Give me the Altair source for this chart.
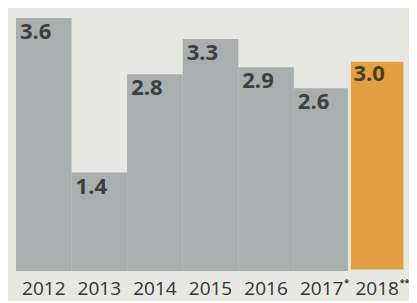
import altair as alt
import pandas as pd

years = ["2012", "2013", "2014", "2015", "2016", "2017", "2018"]
marks = ["", "", "", "", "", "*", "**"]
values = [3.6, 1.4, 2.8, 3.3, 2.9, 2.6, 3.0]
labels = ["3.6", "1.4", "2.8", "3.3", "2.9", "2.6", "3.0"]
forecast = [False, False, False, False, False, False, True]

df = pd.DataFrame({"year": years, "mark": marks, "value": values, "label": labels,
                   "forecast": forecast})

BG = "#e8e8e3"

x = alt.X("year:N", sort=years, title=None,
          scale=alt.Scale(paddingInner=0, paddingOuter=0),
          axis=alt.Axis(domain=False, ticks=False, labelAngle=0, labelFont="Open Sans",
                        labelFontSize=19, labelColor="#333333", labelBaseline="alphabetic",
                        labelPadding=23, labelOverlap=False))
y = alt.Y("value:Q", scale=alt.Scale(domain=[0, 3.6], nice=False), axis=None, title=None)

bars = alt.Chart(df).mark_bar().encode(
    x=x, y=y,
    color=alt.condition("datum.forecast", alt.value("#e3a042"), alt.value("#a9aeae")),
    stroke=alt.condition("datum.forecast", alt.value(BG), alt.value("#a9aeae")),
    strokeWidth=alt.condition("datum.forecast", alt.value(3), alt.value(0)),
)

text = alt.Chart(df).mark_text(align="left", baseline="top", dx=4, dy=4,
                               font="Open Sans", fontWeight="bold", fontSize=22).encode(
    x=alt.X("year:N", sort=years, bandPosition=0),
    y=y,
    text="label:N",
    color=alt.condition("datum.forecast", alt.value("#4a3d28"), alt.value("#3c3f3f")),
)

stars = alt.Chart(df).mark_text(align="left", baseline="top", dx=22.5, dy=8,
                                font="Open Sans", fontSize=9, fontWeight="bold",
                                color="#333333").encode(
    x=alt.X("year:N", sort=years, bandPosition=0.5),
    y=alt.datum(0),
    text="mark:N",
)

chart = (bars + text + stars).properties(
    width=389, height=253,
    autosize=alt.AutoSizeParams(type="none"),
    padding={"left": 8, "top": 10, "right": 4, "bottom": 30},
    background=BG,
).configure_view(stroke=None)

chart.save("out.html", embed_options={"renderer": "svg", "actions": False})
